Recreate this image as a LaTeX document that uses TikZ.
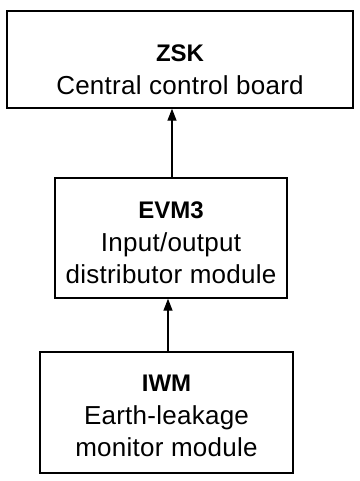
\documentclass[tikz,border=0pt]{standalone}
\usepackage{fontspec}
\setmainfont{Liberation Sans}[LetterSpace=1,BoldFeatures={LetterSpace=0}]
\usetikzlibrary{arrows.meta}
\newcommand{\hdtitle}[1]{{\fontsize{24}{32.5}\selectfont\bfseries #1}}
\begin{document}
\begin{tikzpicture}[
  box/.style={draw, line width=1.4pt, align=center, inner sep=0pt,
    font=\fontsize{26}{32.5}\selectfont},
  arr/.style={line width=1.3pt, -{Triangle[length=12pt,width=9pt]}}
]
\useasboundingbox (0,0) rectangle (359pt,-481pt);
\node[box, minimum width=346pt, minimum height=97pt] (zsk) at (180pt,-59.5pt)
  {\rule{0pt}{36.5pt}\hdtitle{ZSK}\\[0.5pt]Central control board};
\node[box, minimum width=232pt, minimum height=120pt] (evm) at (171pt,-238pt)
  {\rule{0pt}{26.5pt}\hdtitle{EVM3}\\Input/output\\distributor module};
\node[box, minimum width=253pt, minimum height=121pt] (iwm) at (166.5pt,-412.5pt)
  {\rule{0pt}{24pt}\hdtitle{IWM}\\Earth-leakage\\monitor module};
\draw[arr] ([xshift=1pt]evm.north) -- ([xshift=1pt]evm.north |- zsk.south);
\draw[arr] ([xshift=1.5pt]iwm.north) -- ([xshift=1.5pt]iwm.north |- evm.south);
\end{tikzpicture}
\end{document}
